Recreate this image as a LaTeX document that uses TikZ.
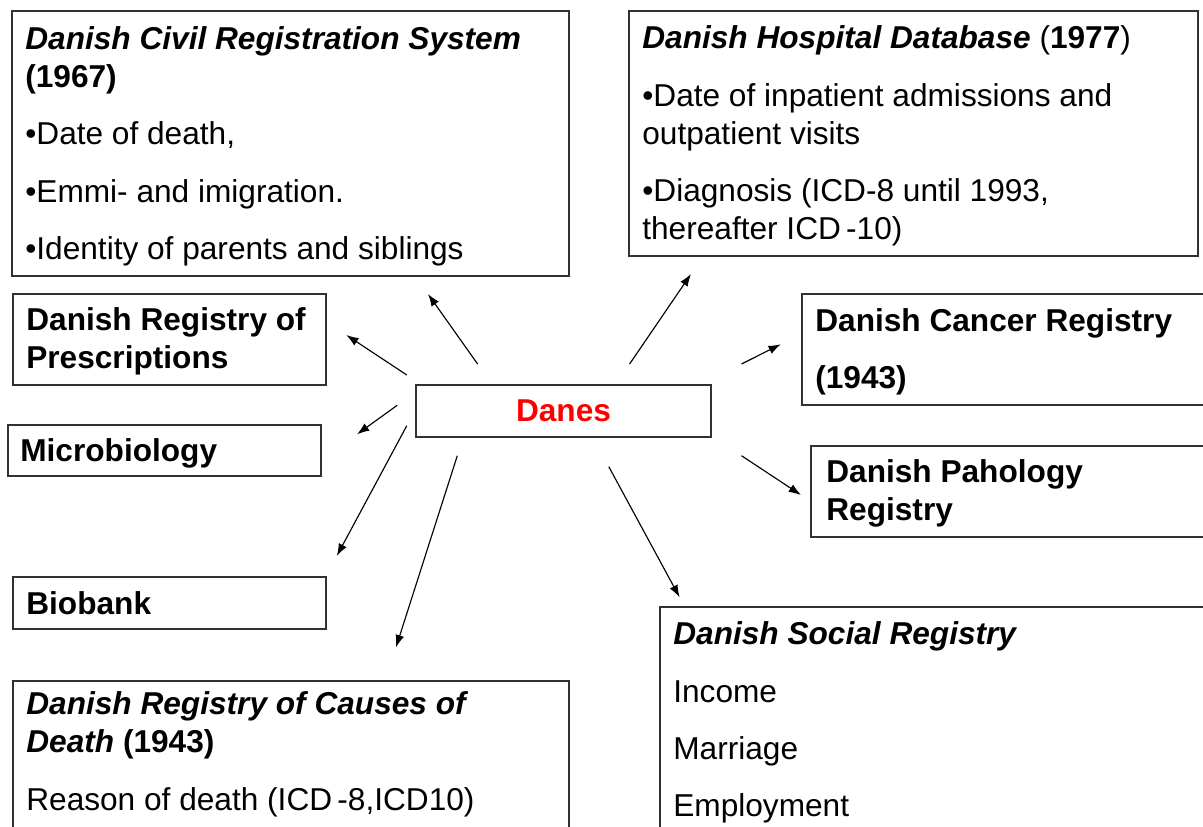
\documentclass[tikz,border=0pt]{standalone}
\usepackage{fontspec}
\setmainfont{Liberation Sans}
\usetikzlibrary{arrows.meta,fit}
\tikzset{>={Latex[length=7pt,width=5pt]}}
\definecolor{danesred}{RGB}{255,0,0}
\definecolor{boxline}{RGB}{50,50,50}
\newcommand{\bi}[1]{\textbf{\textit{#1}}}

\begin{document}
\begin{tikzpicture}[x=0.02cm, y=-0.02cm,
    box/.style={draw=boxline, line width=0.9pt, inner sep=0pt},
    txt/.style={anchor=base west, align=left, inner sep=0pt, font=\fontsize{18}{21.6}\selectfont},
    arr/.style={->, line width=0.65pt}]
    \clip (0,0) rectangle (1203,827);
    % boxes
    \node[box, fit={(12,11) (569,276)}](civil){};
    \node[box, fit={(629,11) (1198,256)}](hosp){};
    \node[box, fit={(13,294) (326,385)}](presc){};
    \node[box, fit={(8,425) (321,476)}](micro){};
    \node[box, fit={(13,577) (326,629)}](bio){};
    \node[box, fit={(13,681) (569,850)}](death){};
    \node[box, fit={(416,385) (711,437)}](danes){};
    \node[box, fit={(802,294) (1215,405)}](cancer){};
    \node[box, fit={(811,446) (1215,537)}](patho){};
    \node[box, fit={(660,607) (1215,850)}](social){};
    % texts (placed by the baseline of their last line)
    \node[txt](civil-t)at(25,259.3){\bi{Danish Civil Registration System}\\ \textbf{(1967)}\\[11pt]
        •Date of death,\\[11pt] •Emmi- and imigration.\\[11pt] •Identity of parents and siblings};
    \node[txt](hosp-t)at(642,239.3){\bi{Danish Hospital Database} (\textbf{1977})\\[11pt]
        •Date of inpatient admissions and\\ outpatient visits\\[11pt]
        •Diagnosis (ICD-8 until 1993,\\ thereafter ICD\,-10)};
    \node[txt](presc-t)at(26,368.3){\textbf{Danish Registry of}\\ \textbf{Prescriptions}};
    \node[txt](micro-t)at(20,461.7){\textbf{Microbiology}};
    \node[txt](bio-t)at(26,614.3){\textbf{Biobank}};
    \node[txt](death-t)at(26,810){\bi{Danish Registry of Causes of}\\ \bi{Death} \textbf{(1943)}\\[11pt]
        Reason of death (ICD\,-8,ICD10)};
    \node[txt, anchor=base, text=danesred, font={\fontsize{18}{21.6}\selectfont\bfseries}](danes-t)at(563.5,421.7){Danes};
    \node[txt](cancer-t)at(815,388.3){\textbf{Danish Cancer Registry}\\[11pt] \textbf{(1943)}};
    \node[txt](patho-t)at(826,520){\textbf{Danish Pahology}\\ \textbf{Registry}};
    \node[txt](social-t)at(673,816.7){\bi{Danish Social Registry}\\[11pt] Income\\[11pt] Marriage\\[11pt] Employment};
    % arrows out of the centre
    \coordinate(civ-s)at(477.6,364);   \coordinate(civ-e)at(428,294);
    \coordinate(pre-s)at(406.8,375);   \coordinate(pre-e)at(346.3,335);
    \coordinate(mic-s)at(397.2,405.3); \coordinate(mic-e)at(357,434.3);
    \coordinate(bio-s)at(406.8,425.7); \coordinate(bio-e)at(336.8,556);
    \coordinate(cau-s)at(457.3,455.7); \coordinate(cau-e)at(396,647.3);
    \coordinate(hos-s)at(629.6,364);   \coordinate(hos-e)at(691,274);
    \coordinate(can-s)at(741.5,364);   \coordinate(can-e)at(780.8,344.3);
    \coordinate(pat-s)at(741.5,455.7); \coordinate(pat-e)at(801,495);
    \coordinate(soc-s)at(608.8,466.7); \coordinate(soc-e)at(679.6,597.3);
    \foreach \n in {civ, pre, mic, bio, cau, hos, can, pat, soc}
        \draw[arr](\n-s)--(\n-e);
\end{tikzpicture}
\end{document}
